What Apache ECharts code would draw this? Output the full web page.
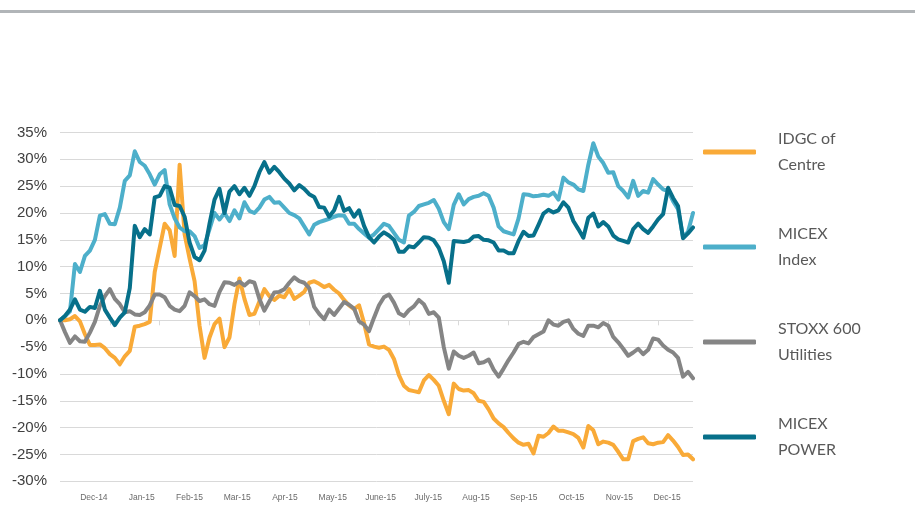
<!DOCTYPE html>
<html><head><meta charset="utf-8">
<script src="https://cdn.jsdelivr.net/npm/echarts@6/dist/echarts.min.js"></script>
<style>html,body{margin:0;padding:0;background:#fff}#c{width:915px;height:517px}</style>
</head><body><div id="c"></div>
<script>
// Month tick labels along the bottom
const monthLabels = ['Dec-14','Jan-15','Feb-15','Mar-15','Apr-15','May-15','June-15','July-15','Aug-15','Sep-15','Oct-15','Nov-15','Dec-15'];

// Series names (legend)
const seriesNames = ['IDGC of\nCentre', 'MICEX\nIndex', 'STOXX 600\nUtilities', 'MICEX\nPOWER'];
const seriesColors = ['#F9AA38', '#4DAFCA', '#858585', '#07708A'];

// Relative performance, % (~weekly spacing)
const idgc = [
  0, 0, 0.2, 0.8, -0.2, -2.6, -4.6, -4.6, -4.5, -5.2,
  -6.3, -7, -8.2, -6.7, -5.7, -1.2, -1, -0.7, -0.3, 9,
  13.5, 18, 16.8, 12, 29, 16, 11.5, 7.3, -1, -7,
  -3.2, -0.7, 0.3, -5, -3.2, 3, 7.8, 4, 1, 1.2,
  3.5, 5.8, 4.5, 3.8, 4.6, 4.3, 5.8, 4, 4.6, 5.3,
  7, 7.3, 6.8, 6.2, 6.6, 5.7, 5, 3.8, 2.8, 2.1,
  2.8, -0.5, -4.5, -4.9, -5.1, -4.9, -5.5, -7.2, -10.2, -12.2,
  -13, -13.2, -13.4, -11.2, -10.2, -11.1, -12.2, -15, -17.5, -11.8,
  -12.8, -13.1, -13, -13.6, -15, -15.2, -16.6, -18.3, -19.2, -19.9,
  -21, -22, -22.8, -23.2, -23, -24.8, -21.5, -21.7, -21, -19.8,
  -20.6, -20.6, -20.9, -21.2, -21.9, -23.7, -19.7, -20.5, -23.1, -22.6,
  -22.8, -23.2, -24.5, -25.9, -25.9, -22.5, -22.1, -21.8, -22.9, -23.1,
  -22.8, -22.7, -21.4, -22.4, -23.6, -25.1, -25, -25.9
];
const micexIndex = [
  0, 0.8, 1.7, 10.5, 9, 12, 13, 15, 19.5, 19.8,
  18, 17.9, 21, 26, 27, 31.5, 29.5, 28.8, 27.2, 25.3,
  27.2, 28, 21.6, 19, 17.3, 16.6, 16.6, 15.7, 13.5, 14,
  17, 20, 18.8, 20, 18.5, 20.5, 19, 22, 20.4, 20,
  21, 22.5, 23, 21.9, 22, 21, 20, 19.6, 19, 17.5,
  16, 17.8, 18.3, 18.6, 18.9, 19.3, 19.6, 19.5, 18, 18,
  17, 16.2, 15.4, 16, 17, 18, 17.6, 16.3, 15, 14.5,
  19.5, 20.2, 21.3, 21.6, 21.9, 22.4, 20.8, 18.3, 17, 21.5,
  23.5, 21.6, 22.6, 23, 23.2, 23.7, 23.2, 21, 17.5, 16.6,
  16.3, 16, 19, 23.5, 23.4, 23.1, 23.2, 23.4, 23.2, 23.8,
  22.5, 26.6, 25.7, 25.3, 24.4, 24.1, 29, 33, 30.5, 29.3,
  27.5, 27.6, 25, 24.1, 22.9, 26, 23.2, 24.1, 23.8, 26.3,
  25.3, 24.4, 24.1, 22.2, 20.7, 15.5, 16.5, 20
];
const stoxxUtilities = [
  0, -2.2, -4.2, -3, -3.9, -4, -2.3, -0.3, 2.7, 4.5,
  5.8, 4, 3, 1.5, 1.7, 1.1, 1, 1.5, 2.8, 4.8,
  4.8, 4.3, 2.7, 2, 1.7, 2.7, 5.2, 4.5, 3.6, 3.9,
  3, 2.7, 5.3, 7.1, 7, 6.6, 7.2, 6.5, 7.3, 7,
  4, 1.8, 3.5, 5.2, 5.3, 5.8, 7, 8, 7.3, 7,
  6, 2.5, 1.2, 0.2, 2, 1, 2.2, 3.4, 2.9, 2.2,
  -0.2, -0.8, -2, 0.5, 2.8, 4.3, 4.8, 3.3, 1.3, 0.8,
  1.9, 2.6, 3.8, 3, 1.2, 1.5, 0.5, -5, -9, -5.8,
  -6.6, -7, -6.6, -6, -8, -7.8, -7.3, -9.2, -10.5, -9,
  -7.4, -6, -4.4, -4, -4.3, -3.1, -2.6, -2.1, 0, -0.8,
  -1, -0.3, 0, -1.6, -2.5, -2.9, -1, -1, -1.3, -0.5,
  -1, -3.1, -4.1, -5.3, -6.6, -6, -5.3, -6.3, -5.5, -3.4,
  -3.6, -4.7, -5.5, -6, -7, -10.5, -9.6, -10.8
];
const micexPower = [
  0, 0.8, 2, 3.9, 2, 1.6, 2.5, 2.3, 5.5, 2,
  0.5, -0.9, 0.5, 1.5, 6, 17.6, 15.5, 17, 16, 22.9,
  23.2, 25, 24.7, 21.5, 21.3, 19.3, 14.5, 11.8, 11.2, 13,
  18, 22.5, 24.5, 20, 24, 25, 23.5, 24.7, 23.2, 25,
  27.6, 29.5, 27.5, 28.6, 27.6, 26.4, 25.5, 24.2, 25.2, 24.5,
  23.5, 23, 21.1, 21, 19.3, 20.5, 23, 20.4, 20.9, 19.3,
  20.5, 17.6, 15.5, 14.5, 15.6, 16.4, 15.8, 15, 12.8, 12.8,
  13.8, 13.6, 14.5, 15.5, 15.4, 14.9, 13.5, 11, 7, 14.8,
  14.7, 14.6, 14.8, 15.6, 15.7, 15, 14.9, 14.5, 13, 13,
  12.5, 12.5, 14.8, 16.5, 15.7, 15.8, 17.8, 19.9, 20.6, 20.1,
  20.5, 22, 21, 18.5, 17, 15.4, 19.1, 19.9, 17.5, 18.3,
  17.5, 15.8, 15.1, 14.8, 14.5, 17, 18, 17, 16.3, 17.5,
  18.8, 19.8, 24.7, 22.8, 21.3, 15.3, 16.2, 17.3
];

const yMin = -30, yMax = 35, yStep = 5;

const dataSets = [idgc, micexIndex, stoxxUtilities, micexPower];
const pointIndex = idgc.map((_, i) => i);

const chart = echarts.init(document.getElementById('c'), null, { renderer: 'canvas' });

const series = dataSets.map((d, k) => ({
  name: seriesNames[k],
  type: 'line',
  xAxisIndex: 0,
  yAxisIndex: 0,
  data: d,
  symbol: 'none',
  showSymbol: false,
  color: seriesColors[k],
  lineStyle: { width: 4, color: seriesColors[k], cap: 'round', join: 'round' },
  emphasis: { disabled: true },
  z: 2 + k
}));

chart.setOption({
  animation: false,
  backgroundColor: '#ffffff',
  graphic: [{
    type: 'rect', left: 0, top: 10,
    shape: { x: 0, y: 0, width: 915, height: 3 },
    style: { fill: '#B1B5B8' }
  }],
  legend: {
    orient: 'vertical',
    left: 703, top: 126, padding: 0,
    itemGap: 43, itemWidth: 53, itemHeight: 5,
    icon: 'roundRect',
    data: seriesNames,
    selectedMode: false,
    textStyle: { fontFamily: 'Lato', fontSize: 16, color: '#595959', lineHeight: 26, padding: [0, 0, 0, 17] }
  },
  grid: [
    { left: 60, right: 222, top: 132.5, bottom: 35.7 },
    { left: 70, right: 224, top: 132.5, bottom: 35.7 }
  ],
  xAxis: [
    {
      type: 'category', gridIndex: 0, data: pointIndex, boundaryGap: false,
      axisLine: { show: true, onZero: true, lineStyle: { color: '#D9D9D9', width: 1 } },
      axisTick: { show: true, interval: 9, length: 5, lineStyle: { color: '#D9D9D9' } },
      axisLabel: { show: false },
      splitLine: { show: false }
    },
    {
      type: 'category', gridIndex: 1, data: monthLabels, boundaryGap: true,
      axisLine: { show: false }, axisTick: { show: false },
      axisLabel: { interval: 0, margin: 12, fontSize: 8.5, color: '#6B6B6B', fontFamily: 'Liberation Sans' },
      splitLine: { show: false }
    }
  ],
  yAxis: [
    {
      type: 'value', gridIndex: 0, min: yMin, max: yMax, interval: yStep,
      axisLine: { show: false }, axisTick: { show: false },
      axisLabel: { formatter: '{value}%', margin: 13, fontSize: 15, color: '#404040', fontFamily: 'Liberation Sans' },
      splitLine: { lineStyle: { color: '#D9D9D9', width: 1 } }
    },
    { type: 'value', gridIndex: 1, min: 0, max: 1, show: false }
  ],
  series: series
});
</script>
</body></html>
